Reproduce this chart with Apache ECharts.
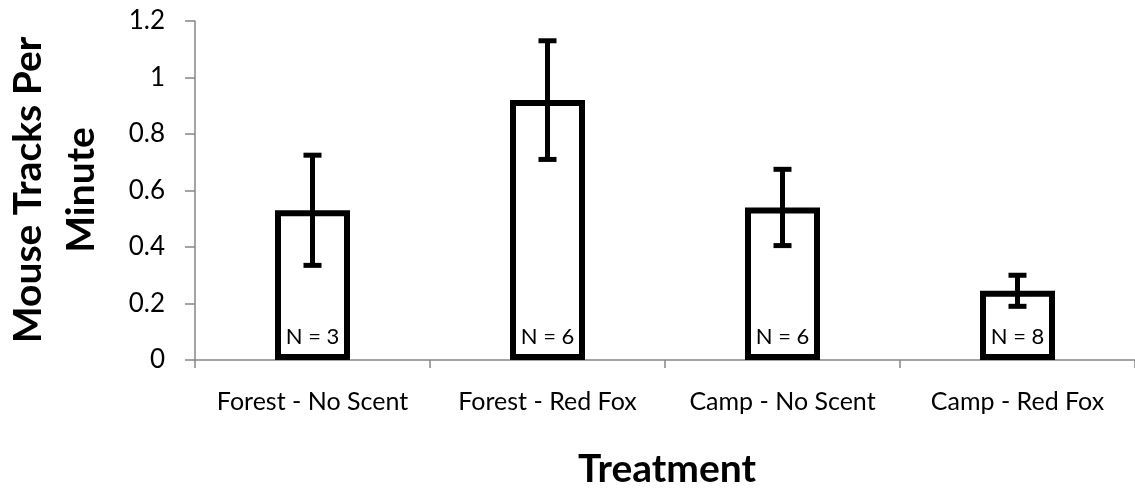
<!DOCTYPE html>
<html>
<head>
<meta charset="utf-8">
<script src="https://cdn.jsdelivr.net/npm/echarts@6/dist/echarts.min.js"></script>
<style>html,body{margin:0;padding:0;background:#fff;}#c{width:1135px;height:491px;}</style>
</head>
<body>
<div id="c"></div>
<script>
const categories = ['Forest - No Scent', 'Forest - Red Fox', 'Camp - No Scent', 'Camp - Red Fox'];
const means = [0.53, 0.92, 0.54, 0.245];
const errLow = [0.335, 0.71, 0.405, 0.19];
const errHigh = [0.725, 1.13, 0.675, 0.30];
const nLabels = ['N = 3', 'N = 6', 'N = 6', 'N = 8'];
const yTicks = { min: 0, max: 1.2, interval: 0.2 };

const FONT = 'Lato, "Open Sans", sans-serif';
const chart = echarts.init(document.getElementById('c'), null, { renderer: 'canvas' });
chart.setOption({
  animation: false,
  backgroundColor: '#fff',
  grid: { left: 195, top: 21, right: -4, bottom: 131, containLabel: false },
  xAxis: {
    type: 'category',
    data: categories,
    axisLine: { lineStyle: { color: '#868686', width: 1.5 } },
    axisTick: { show: true, interval: 0, length: 8, lineStyle: { color: '#868686', width: 1.5 } },
    axisLabel: { interval: 0, color: '#000', fontFamily: FONT, fontSize: 25, margin: 29 }
  },
  yAxis: {
    type: 'value',
    min: yTicks.min, max: yTicks.max, interval: yTicks.interval,
    axisLine: { show: true, lineStyle: { color: '#868686', width: 1.5 } },
    axisTick: { show: true, length: 10, lineStyle: { color: '#868686', width: 1.5 } },
    splitLine: { show: false },
    axisLabel: { color: '#000', fontFamily: FONT, fontSize: 26, margin: 30 }
  },
  graphic: [
    { type: 'text', x: 667, y: 469, z: 10,
      style: { text: 'Treatment', fontFamily: FONT, fontWeight: 'bold', fontSize: 39, fill: '#000', align: 'center', verticalAlign: 'middle' } },
    { type: 'text', x: 55, y: 190, rotation: Math.PI / 2, z: 10,
      style: { text: 'Mouse Tracks Per\nMinute', fontFamily: FONT, fontWeight: 'bold', fontSize: 39, lineHeight: 53, fill: '#000', align: 'center', verticalAlign: 'middle' } }
  ],
  series: [
    {
      type: 'bar',
      data: means,
      barWidth: 75,
      itemStyle: { color: '#fff', borderColor: '#000', borderWidth: 6 },
      label: {
        show: true, position: 'insideBottom', distance: 12,
        formatter: p => nLabels[p.dataIndex],
        color: '#000', fontFamily: FONT, fontSize: 22
      }
    },
    {
      type: 'custom',
      data: categories.map((c, i) => [i, errLow[i], errHigh[i]]),
      z: 5,
      renderItem: function (params, api) {
        const lo = api.coord([api.value(0), api.value(1)]);
        const hi = api.coord([api.value(0), api.value(2)]);
        const hw = 9;
        const st = { stroke: '#000', lineWidth: 5 };
        return {
          type: 'group',
          children: [
            { type: 'line', shape: { x1: lo[0], y1: lo[1], x2: hi[0], y2: hi[1] }, style: st },
            { type: 'line', shape: { x1: hi[0] - hw, y1: hi[1], x2: hi[0] + hw, y2: hi[1] }, style: st },
            { type: 'line', shape: { x1: lo[0] - hw, y1: lo[1], x2: lo[0] + hw, y2: lo[1] }, style: st }
          ]
        };
      }
    }
  ]
});
</script>
</body>
</html>
